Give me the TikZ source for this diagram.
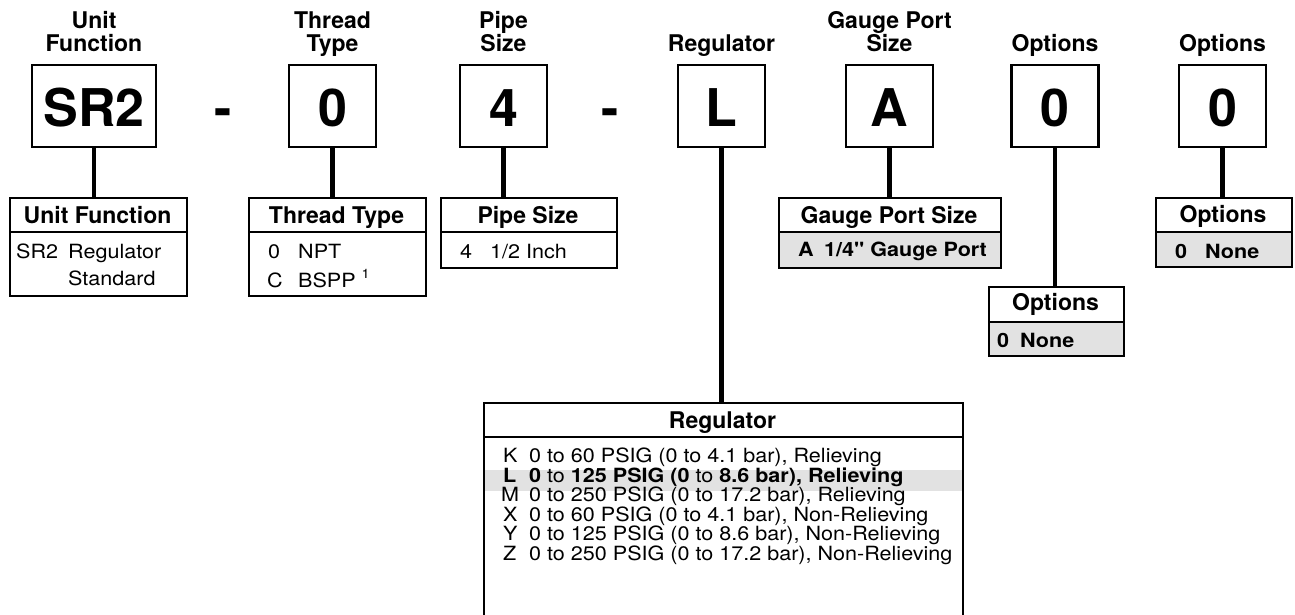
\documentclass[tikz,border=0pt]{standalone}
\usepackage{fontspec}
\setmainfont{TeX Gyre Heros}[Ligatures=TeXOff]
\newfontfamily\bodyf{TeX Gyre Heros}[FakeStretch=1.1, Ligatures=TeXOff]
\definecolor{rowgray}{RGB}{226,226,226}
\tikzset{
  ttl/.style={font=\fontsize{23}{23}\selectfont\bfseries, align=center, inner sep=0pt, anchor=base},
  codebox/.style={draw, line width=2.2pt, minimum width=87pt, minimum height=82pt, inner sep=0pt},
  bigch/.style={font=\fontsize{52}{52}\selectfont\bfseries, inner sep=0pt, anchor=base},
  conn/.style={line width=4.5pt},
  tbl/.style={draw, line width=2pt, inner sep=0pt, anchor=north west},
  divl/.style={line width=2pt},
  hdr/.style={font=\fontsize{23}{23}\selectfont\bfseries, inner sep=0pt, anchor=base},
  bod/.style={font=\bodyf\fontsize{19.6}{19.6}\selectfont, inner sep=0pt, anchor=base west},
  bodb/.style={font=\bodyf\fontsize{19.6}{19.6}\selectfont\bfseries, inner sep=0pt, anchor=base west},
}
\begin{document}
\begin{tikzpicture}[x=1pt,y=-1pt]
\useasboundingbox (0,0) rectangle (1295,615);

% titles (base = baseline of last line)
\node[ttl] (t1) at (94,52) {Unit\\Function};
\node[ttl] (t2) at (332.5,52) {Thread\\Type};
\node[ttl] (t3) at (503.5,52) {Pipe\\Size};
\node[ttl] (t4) at (721.5,52) {Regulator};
\node[ttl] (t5) at (889.5,52) {Gauge Port\\Size};
\node[ttl] (t6) at (1055,52) {Options};
\node[ttl] (t7) at (1222.5,52) {Options};

% code boxes
\node[codebox, minimum width=124pt] (cuf) at (94,106) {};
\node[codebox] (ctt) at (332.5,106) {};
\node[codebox] (cps) at (503.5,106) {};
\node[codebox] (creg) at (721.5,106) {};
\node[codebox] (cgp) at (889.5,106) {};
\node[codebox] (co1) at (1055,106) {};
\node[codebox] (co2) at (1222.5,106) {};
\node[bigch] (l1) at (94,127) {SR2};
\node[bigch] (l2) at (332.5,127) {0};
\node[bigch] (l3) at (503.5,127) {4};
\node[bigch] (l4) at (721.5,127) {L};
\node[bigch] (l5) at (889.5,127) {A};
\node[bigch] (l6) at (1055,127) {0};
\node[bigch] (l7) at (1222.5,127) {0};
\node[bigch] (d1) at (223,127) {-};
\node[bigch] (d2) at (610,127) {-};

% gray rows
\fill[rowgray] (778,232) rectangle (1000,267);
\fill[rowgray] (1155,232) rectangle (1291,266);
\fill[rowgray] (988,322) rectangle (1123,355);
\fill[rowgray] (483,470) rectangle (962,490.5);

% tables
\node[tbl, minimum width=177pt, minimum height=98pt] (tuf) at (9,197) {};
\node[tbl, minimum width=177pt, minimum height=98pt] (ttt) at (248,197) {};
\node[tbl, minimum width=176pt, minimum height=70pt] (tps) at (440,197) {};
\node[tbl, minimum width=222pt, minimum height=70pt] (tgp) at (778,197) {};
\node[tbl, minimum width=136pt, minimum height=69pt] (to2) at (1155,197) {};
\node[tbl, minimum width=135pt, minimum height=69pt] (to1) at (988,286) {};
\node[tbl, minimum width=479pt, minimum height=225pt] (treg) at (483,402) {};

\draw[divl] (tuf.west |- 0,232) -- (tuf.east |- 0,232);
\draw[divl] (ttt.west |- 0,232) -- (ttt.east |- 0,232);
\draw[divl] (tps.west |- 0,232) -- (tps.east |- 0,232);
\draw[divl] (tgp.west |- 0,232) -- (tgp.east |- 0,232);
\draw[divl] (to2.west |- 0,232) -- (to2.east |- 0,232);
\draw[divl] (to1.west |- 0,322) -- (to1.east |- 0,322);
\draw[divl] (treg.west |- 0,437) -- (treg.east |- 0,437);

% connectors
\draw[conn] (cuf.south) -- (cuf.south |- tuf.north);
\draw[conn] (ctt.south) -- (ctt.south |- ttt.north);
\draw[conn] (cps.south) -- (cps.south |- tps.north);
\draw[conn] (creg.south) -- (creg.south |- treg.north);
\draw[conn] (cgp.south) -- (cgp.south |- tgp.north);
\draw[conn] (co1.south) -- (co1.south |- to1.north);
\draw[conn] (co2.south) -- (co2.south |- to2.north);

% headers
\node[hdr] (h1) at (97.5,223) {Unit Function};
\node[hdr] (h2) at (336.5,223) {Thread Type};
\node[hdr] (h3) at (528,223) {Pipe Size};
\node[hdr] (h4) at (889,223) {Gauge Port Size};
\node[hdr] (h5) at (1223,222) {Options};
\node[hdr] (h6) at (1055.5,310) {Options};
\node[hdr] (h7) at (722.5,428) {Regulator};

% body: unit function
\node[bod] (b1a) at (16,258) {SR2};
\node[bod] (b1b) at (68,258) {Regulator};
\node[bod] (b1c) at (68,285) {Standard};
% thread type
\node[bod] (b2a) at (268,258) {0};
\node[bod] (b2b) at (298,258) {NPT};
\node[bod] (b2c) at (267,287) {C};
\node[bod] (b2d) at (298,287) {BSPP \raisebox{9pt}{\fontsize{13}{13}\selectfont 1}};
% pipe size
\node[bod] (b3a) at (460,258) {4};
\node[bod] (b3b) at (490,258) {1/2 Inch};
% gauge port
\node[bodb] (b4a) at (798,256) {A};
\node[bodb] (b4b) at (824,256) {1/4" Gauge Port};
% options
\node[bodb] (b5a) at (1175,258) {0};
\node[bodb] (b5b) at (1205,258) {None};
\node[bodb] (b6a) at (997,347) {0};
\node[bodb] (b6b) at (1020,347) {None};
% regulator
\node[bod] (rk) at (503,462.5) {K};
\node[bod] (rkt) at (529,462.5) {0 to 60 PSIG (0 to 4.1 bar), Relieving};
\node[bodb] (rl) at (503,482) {L};
\node[bod] (rlt) at (529,482) {\bfseries 0 \mdseries to \bfseries 125 PSIG (0 \mdseries to \bfseries 8.6 bar), Relieving};
\node[bod] (rm) at (501,501.5) {M};
\node[bod] (rmt) at (529,501.5) {0 to 250 PSIG (0 to 17.2 bar), Relieving};
\node[bod] (rx) at (503,521) {X};
\node[bod] (rxt) at (529,521) {0 to 60 PSIG (0 to 4.1 bar), Non-Relieving};
\node[bod] (ry) at (503,540.5) {Y};
\node[bod] (ryt) at (529,540.5) {0 to 125 PSIG (0 to 8.6 bar), Non-Relieving};
\node[bod] (rz) at (503,560) {Z};
\node[bod] (rzt) at (529,560) {0 to 250 PSIG (0 to 17.2 bar), Non-Relieving};
\end{tikzpicture}
\end{document}
